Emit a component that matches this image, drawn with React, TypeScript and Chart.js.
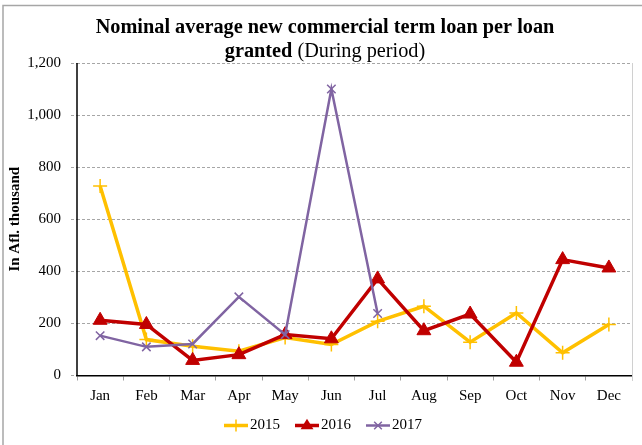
import React, { useEffect, useRef } from "react";
import { Chart, registerables } from "chart.js";

Chart.register(...registerables);

const months = ["Jan", "Feb", "Mar", "Apr", "May", "Jun", "Jul", "Aug", "Sep", "Oct", "Nov", "Dec"];
const values2015 = [728, 138, 112, 93, 146, 119, 208, 266, 128, 240, 87, 196];
const values2016 = [212, 196, 58, 80, 157, 141, 371, 172, 236, 51, 445, 413];
const values2017: (number | null)[] = [153, 110, 121, 302, 157, 1100, 238, null, null, null, null, null];
const yTicks = [0, 200, 400, 600, 800, 1000, 1200];

const titleLine1 = "Nominal average new commercial term loan per loan";
const titleLine2Bold = "granted";
const titleLine2Normal = " (During period)";
const yAxisTitle = "In Afl. thousand";

const FONT = "'Liberation Serif', 'Times New Roman', serif";

const decorPlugin = {
  id: "decor",
  beforeDraw(chart: any) {
    const ctx = chart.ctx;
    ctx.save();
    ctx.fillStyle = "#ffffff";
    ctx.fillRect(0, 0, chart.width, chart.height);
    ctx.strokeStyle = "#a6a6a6";
    ctx.lineWidth = 1.5;
    ctx.beginPath();
    ctx.moveTo(3, chart.height);
    ctx.lineTo(3, 5.5);
    ctx.lineTo(chart.width, 5.5);
    ctx.stroke();
    ctx.restore();
  },
  afterDraw(chart: any) {
    const ctx = chart.ctx;
    const ca = chart.chartArea;
    ctx.save();
    ctx.setLineDash([]);
    // plot right border
    ctx.strokeStyle = "#d0d0d0";
    ctx.lineWidth = 1;
    ctx.beginPath();
    ctx.moveTo(Math.round(ca.right) + 0.5, ca.top);
    ctx.lineTo(Math.round(ca.right) + 0.5, ca.bottom + 5);
    ctx.stroke();

    // y axis line (solid)
    ctx.strokeStyle = "#000000";
    ctx.lineWidth = 1.5;
    ctx.beginPath();
    ctx.moveTo(ca.left, ca.top);
    ctx.lineTo(ca.left, ca.bottom);
    ctx.stroke();

    // title
    ctx.fillStyle = "#000000";
    ctx.textBaseline = "alphabetic";
    ctx.textAlign = "left";
    const cx = 325;
    ctx.font = `bold 20.3px ${FONT}`;
    const w1 = ctx.measureText(titleLine1).width;
    ctx.fillText(titleLine1, cx - w1 / 2, 33);
    const wb = ctx.measureText(titleLine2Bold).width;
    ctx.font = `20.3px ${FONT}`;
    const wn = ctx.measureText(titleLine2Normal).width;
    const start2 = cx - (wb + wn) / 2;
    ctx.font = `bold 20.3px ${FONT}`;
    ctx.fillText(titleLine2Bold, start2, 56.5);
    ctx.font = `20.3px ${FONT}`;
    ctx.fillText(titleLine2Normal, start2 + wb, 56.5);

    // legend
    ctx.font = `15px ${FONT}`;
    const items = chart.data.datasets.map((d: any) => ({
      label: d.label,
      color: d.borderColor,
      style: d.pointStyle,
      lw: d.borderWidth,
      r: d.pointRadius,
    }));
    const lineLen = 24;
    const gapText = 2;
    const gapItem = 15;
    let total = 0;
    items.forEach((it: any, i: number) => {
      total += lineLen + gapText + ctx.measureText(it.label).width;
      if (i < items.length - 1) total += gapItem;
    });
    let x = 323 - total / 2;
    const y = 425.5;
    items.forEach((it: any) => {
      ctx.strokeStyle = it.color;
      ctx.fillStyle = it.color;
      ctx.lineWidth = it.lw;
      ctx.beginPath();
      ctx.moveTo(x, y);
      ctx.lineTo(x + lineLen, y);
      ctx.stroke();
      const mx = x + lineLen / 2;
      const r = it.r * 0.85;
      ctx.lineWidth = 1.5;
      ctx.beginPath();
      if (it.style === "cross") {
        ctx.moveTo(mx - r, y);
        ctx.lineTo(mx + r, y);
        ctx.moveTo(mx, y - r);
        ctx.lineTo(mx, y + r);
        ctx.stroke();
      } else if (it.style === "crossRot") {
        const d = r * 0.75;
        ctx.moveTo(mx - d, y - d);
        ctx.lineTo(mx + d, y + d);
        ctx.moveTo(mx - d, y + d);
        ctx.lineTo(mx + d, y - d);
        ctx.stroke();
      } else if (it.style === "triangle") {
        ctx.moveTo(mx, y - r);
        ctx.lineTo(mx + r * 0.95, y + r * 0.55);
        ctx.lineTo(mx - r * 0.95, y + r * 0.55);
        ctx.closePath();
        ctx.fill();
      }
      ctx.fillStyle = "#000000";
      ctx.textBaseline = "middle";
      ctx.fillText(it.label, x + lineLen + gapText, y);
      x += lineLen + gapText + ctx.measureText(it.label).width + gapItem;
    });
    ctx.restore();
  },
};

export default function App() {
  const canvasRef = useRef<HTMLCanvasElement | null>(null);

  useEffect(() => {
    document.body.style.margin = "0";
    const canvas = canvasRef.current;
    if (!canvas) return;
    const chart = new Chart(canvas, {
      type: "line",
      data: {
        labels: months,
        datasets: [
          {
            label: "2015",
            data: values2015,
            borderColor: "#FFC000",
            backgroundColor: "#FFC000",
            borderWidth: 3.5,
            pointStyle: "cross",
            pointRadius: 7,
            pointBorderWidth: 1.5,
            tension: 0,
            order: 3,
          },
          {
            label: "2016",
            data: values2016,
            borderColor: "#C00000",
            backgroundColor: "#C00000",
            borderWidth: 3.5,
            pointStyle: "triangle",
            pointRadius: 8,
            pointBorderWidth: 1,
            tension: 0,
            order: 2,
          },
          {
            label: "2017",
            data: values2017,
            borderColor: "#8064A2",
            backgroundColor: "#8064A2",
            borderWidth: 2.5,
            pointStyle: "crossRot",
            pointRadius: 6,
            pointBorderWidth: 1.5,
            tension: 0,
            spanGaps: false,
            order: 1,
          },
        ],
      },
      options: {
        responsive: false,
        animation: false,
        devicePixelRatio: 1,
        layout: { padding: { top: 63, right: 10, bottom: 0, left: 0 } },
        plugins: {
          legend: { display: false },
          title: { display: false },
          tooltip: { enabled: false },
        },
        scales: {
          x: {
            type: "category",
            offset: true,
            afterFit: (scale: any) => {
              scale.height = 69.5;
            },
            grid: {
              offset: true,
              drawOnChartArea: false,
              drawTicks: true,
              tickLength: 5,
              color: "#a0a0a0",
            },
            border: { display: true, color: "#000000", width: 1.5 },
            ticks: {
              color: "#000000",
              font: { family: FONT, size: 15 },
              padding: 7,
              maxRotation: 0,
              autoSkip: false,
            },
          },
          y: {
            min: 0,
            max: 1200,
            afterFit: (scale: any) => {
              scale.width = 77;
            },
            afterBuildTicks: (scale: any) => {
              scale.ticks = yTicks.map((v) => ({ value: v }));
            },
            grid: {
              color: "#a6a6a6",
              lineWidth: 1,
              drawTicks: true,
              tickLength: 6,
              tickBorderDash: [3, 2],
            },
            border: { display: false, color: "#000000", width: 1.5, dash: [3, 2] },
            ticks: {
              color: "#000000",
              font: { family: FONT, size: 15 },
              padding: 10,
              callback: (v: any) => Number(v).toLocaleString("en-US"),
            },
            title: {
              display: true,
              text: yAxisTitle,
              color: "#000000",
              font: { family: FONT, size: 15, weight: "bold" },
              padding: { top: 6, bottom: 0 },
            },
          },
        },
      } as any,
      plugins: [decorPlugin],
    });
    return () => chart.destroy();
  }, []);

  return (
    <div style={{ position: "fixed", left: 0, top: 0, width: 642, height: 445 }}>
      <canvas ref={canvasRef} width={642} height={445} style={{ display: "block" }} />
    </div>
  );
}
